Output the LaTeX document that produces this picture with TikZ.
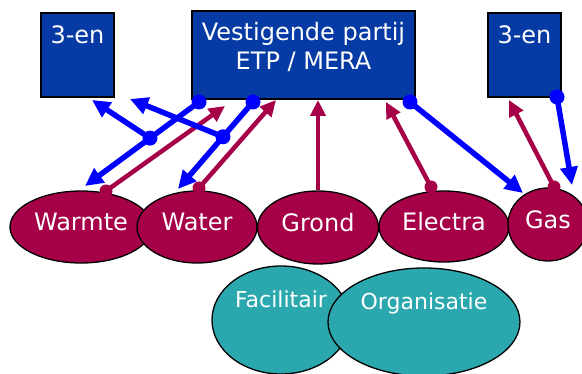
\documentclass[tikz,border=0pt]{standalone}
\usepackage{fontspec}
\setmainfont{DejaVu Sans}
\usetikzlibrary{arrows.meta,shapes.geometric,calc}
\definecolor{boxblue}{RGB}{6,58,164}
\definecolor{wine}{RGB}{165,0,72}
\definecolor{sea}{RGB}{42,168,174}
\begin{document}
\begin{tikzpicture}[x=1pt,y=-1pt]
  \tikzstyle{party} = [rectangle, draw=black, line width=2pt, fill=boxblue, inner sep=0pt]
  \tikzstyle{utility} = [ellipse, draw=black, line width=1.3pt, fill=wine, inner sep=0pt, text=white,
    font=\fontsize{24}{28}\selectfont, text height=17.5pt, text depth=10pt]
  \tikzstyle{support} = [utility, fill=sea, font=\fontsize{22}{26}\selectfont, text height=16pt, text depth=40pt]
  \tikzstyle{bluedot} = [circle, fill=blue, inner sep=0pt, minimum size=15pt]
  \tikzstyle{winedot} = [circle, fill=wine, inner sep=0pt, minimum size=13pt]
  \tikzstyle{bluearrow} = [draw=blue, line width=5.5pt, -{Triangle[length=18pt,width=17pt]}]
  \tikzstyle{winearrow} = [draw=wine, line width=4.5pt, -{Triangle[length=16pt,width=15pt]}]
  \tikzstyle{boxtext} = [text=white, font=\fontsize{24}{29}\selectfont, align=center]

  \useasboundingbox (0,0) rectangle (582,374);
  \clip (0,0) rectangle (582,374);

  % Draw parties
  \node[party, minimum width=73pt, minimum height=84pt,
    label={[boxtext, yshift=20pt]center:3-en}] (left3) at (77.5,55) {};
  \node[party, minimum width=223pt, minimum height=88pt,
    label={[boxtext, yshift=8pt]center:Vestigende partij\\ETP / MERA}] (main) at (303.5,55) {};
  \node[party, minimum width=73pt, minimum height=84pt,
    label={[boxtext, yshift=20pt]center:3-en}] (right3) at (524.5,55) {};

  % Draw utilities
  \foreach \name/\txt/\x/\y/\w/\h in {warmte/Warmte/81/227/142/72, water/Water/197/227/120/72,
      grond/Grond/318/227.5/121/73, electra/Electra/444/226.5/130/71, gas/Gas/548/224.5/80/73}
    \node[utility, minimum width=\w pt, minimum height=\h pt] (\name) at (\x,\y) {\txt};

  % Draw support
  \node[support, minimum width=138pt, minimum height=108pt] (facilitair) at (281,320) {Facilitair};
  \node[support, minimum width=192pt, minimum height=108pt] (organisatie) at (424,322) {Organisatie};

  % Arrow ends
  \coordinate (main1) at (225,106);
  \coordinate (main2) at (276,100);
  \coordinate (main3) at (318,100);
  \coordinate (main4) at (386,102);
  \coordinate (right3in) at (509,100);
  \coordinate (left3a) at (92,100);
  \coordinate (left3b) at (130,99);
  \coordinate (warmtein) at (85,186);
  \coordinate (waterin) at (178,189);
  \coordinate (gasin) at (523,193);
  \coordinate (gasin2) at (572,185);

  % Reports up
  \node[winedot] (r1) at (106,191) {};
  \node[winedot] (r2) at (199,188) {};
  \node[winedot] (r3) at (431,187) {};
  \node[winedot] (r4) at (554,187) {};
  \draw[winearrow] (r1.center) -- (main1);
  \draw[winearrow] (r2.center) -- (main2);
  \draw[winearrow] (grond.north) -- (main3);
  \draw[winearrow] (r3.center) -- (main4);
  \draw[winearrow] (r4.center) -- (right3in);

  % Orders down
  \node[bluedot] (b1) at (199,102) {};
  \node[bluedot] (b2) at (253,102) {};
  \node[bluedot] (b3) at (410,102) {};
  \node[bluedot] (b4) at (557,97) {};
  \node[bluedot] (j1) at ($(b1)!0.43!(warmtein)$) {};
  \node[bluedot] (j2) at ($(b2)!0.4!(waterin)$) {};
  \draw[bluearrow] (b1.center) -- (warmtein);
  \draw[bluearrow] (j1.center) -- (left3a);
  \draw[bluearrow] (b2.center) -- (waterin);
  \draw[bluearrow] (j2.center) -- (left3b);
  \draw[bluearrow] (b3.center) -- (gasin);
  \draw[bluearrow] (b4.center) -- (gasin2);

\end{tikzpicture}
\end{document}
